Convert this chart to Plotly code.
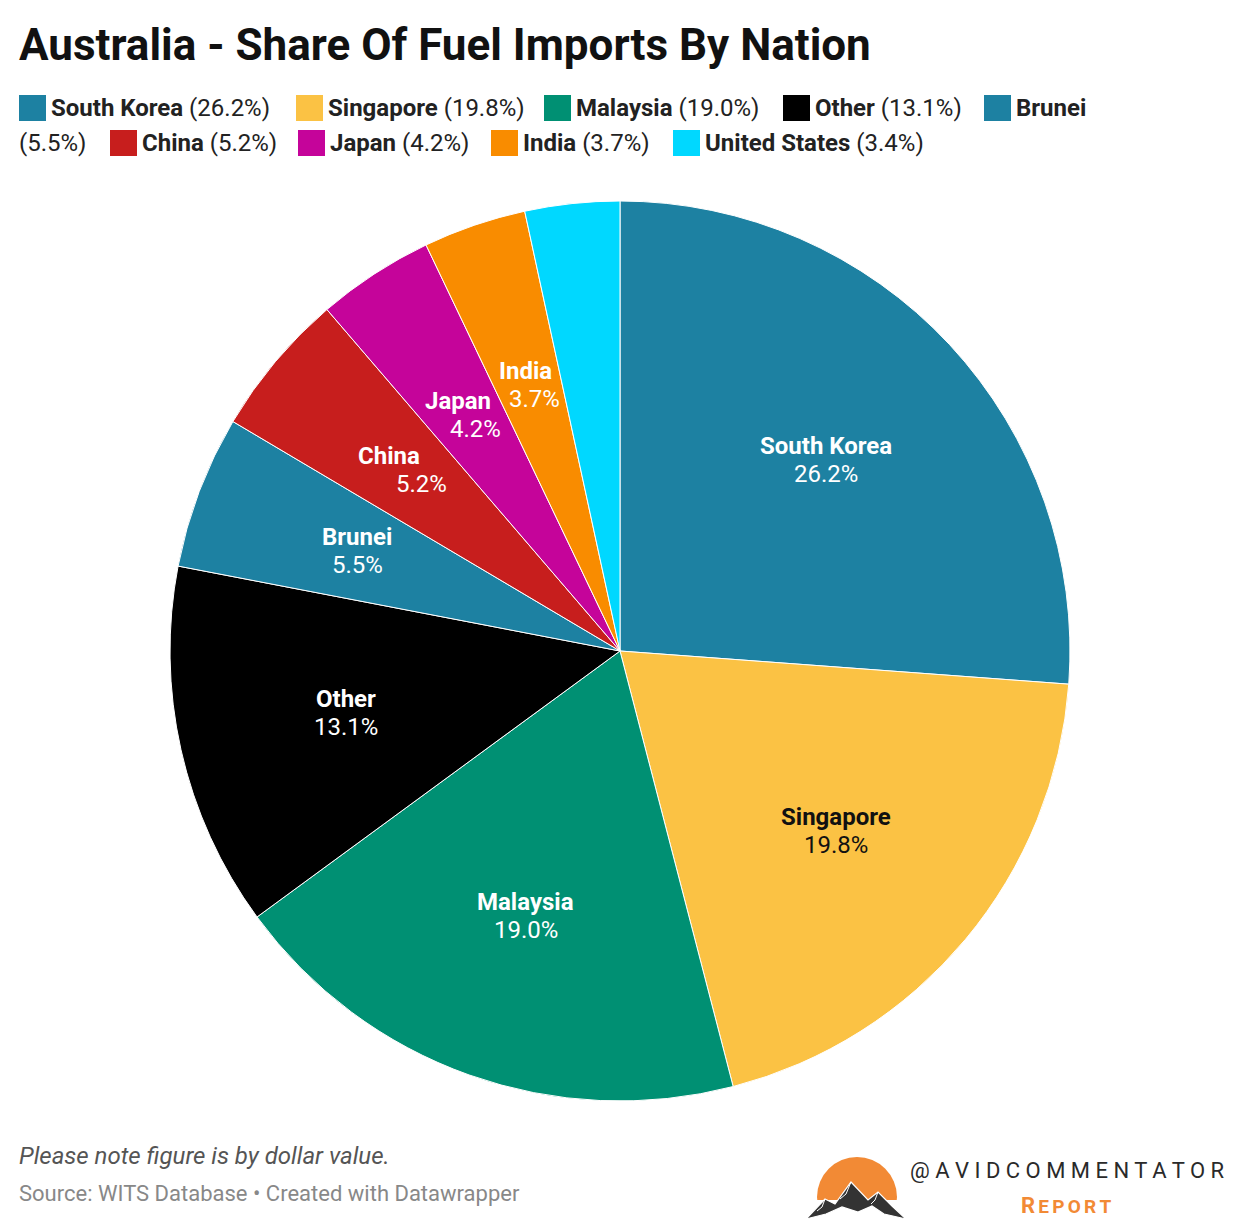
import math
import plotly.graph_objects as go

nations = ["South Korea", "Singapore", "Malaysia", "Other", "Brunei", "China", "Japan", "India", "United States"]
shares = [26.2, 19.8, 19.0, 13.1, 5.5, 5.2, 4.2, 3.7, 3.4]
colors = ["#1d81a2", "#fbc244", "#009073", "#000000", "#1d81a2", "#c71e1d", "#c5049a", "#f98c00", "#00d8ff"]
label_colors = ["#ffffff", "#111111", "#ffffff", "#ffffff", "#ffffff", "#ffffff", "#ffffff", "#ffffff", "#ffffff"]
show_label = [True, True, True, True, True, True, True, True, False]

# label layout nudges (px) for name line and value line in the narrow slices
name_dx = [0, 0, 0, 0, 0, -16, -8, -3, 0]
value_dx = [0, 0, 0, 0, 0, 17, 9, 6, 0]

# legend layout (page pixels): row and x of text start for each entry
legend_row = [0, 0, 0, 0, 0, 1, 1, 1, 1]
legend_text_x = [52, 329, 577, 816, 1017, 143, 331, 524, 706]
legend_row_y = [108, 143]

OFF = 8                      # page body margin
W, H = 1240 - OFF, 1226 - OFF
FONT = "Roboto"

def px(x):
    return (x - OFF) / W

def py(y):
    return 1 - (y - OFF) / H

# pie geometry in page pixels
PIE_L, PIE_R, PIE_T, PIE_B = 170, 1070, 201, 1101
CX, CY = (PIE_L + PIE_R) / 2, (PIE_T + PIE_B) / 2
RAD = (PIE_R - PIE_L) / 2

fig = go.Figure()
fig.add_trace(go.Pie(
    labels=nations,
    values=shares,
    sort=False,
    direction="clockwise",
    rotation=0,
    marker=dict(colors=colors, line=dict(color="#ffffff", width=1)),
    textinfo="none",
    hoverinfo="label+percent",
    showlegend=False,
    domain=dict(x=[px(PIE_L), px(PIE_R)], y=[py(PIE_B), py(PIE_T)]),
))

annotations = []

def ann(text, x, y, size, color, xanchor="left", **kw):
    annotations.append(dict(text=text, x=px(x), y=py(y), xref="paper", yref="paper",
                            xanchor=xanchor, yanchor="middle", showarrow=False,
                            borderpad=0, borderwidth=0,
                            font=dict(family=FONT, size=size, color=color, **kw)))

# slice labels, placed at mid-angle of each slice
total = sum(shares)
cum = 0.0
for i, (name, v, col, show) in enumerate(zip(nations, shares, label_colors, show_label)):
    mid = (cum + v / 2) / total * 2 * math.pi
    cum += v
    if not show:
        continue
    lx = CX + 0.625 * RAD * math.sin(mid)
    ly = CY - 0.625 * RAD * math.cos(mid)
    ann(f"<b>{name}</b>", lx + name_dx[i], ly - 14, 24, col, xanchor="center")
    ann(f"{v:.1f}%", lx + value_dx[i], ly + 14, 24, col, xanchor="center")

shapes = []
# legend
for i, (name, v, c) in enumerate(zip(nations, shares, colors)):
    ry = legend_row_y[legend_row[i]]
    tx = legend_text_x[i]
    shapes.append(dict(type="rect", xref="paper", yref="paper",
                       x0=px(tx - 33), x1=px(tx - 6), y0=py(ry + 13), y1=py(ry - 13),
                       fillcolor=c, line=dict(width=0)))
    if name == "Brunei":
        ann(f"<b>{name}</b>", tx - 1, ry, 24, "#222222")
        ann(f"({v:.1f}%)", 19, legend_row_y[1], 24, "#222222")
    else:
        ann(f"<b>{name}</b> ({v:.1f}%)", tx - 1, ry, 24, "#222222")

# title and footer
ann("<b>Australia - Share Of Fuel Imports By Nation</b>", 19, 45, 44, "#111111")
ann("<i>Please note figure is by dollar value.</i>", 19, 1156, 24, "#555555")
ann("Source: WITS Database • Created with Datawrapper", 19, 1193, 22, "#888888")

# logo
ann(" ".join("@AVIDCOMMENTATOR"), 1224, 1170, 22, "#2a2a2a", xanchor="right")
ann("<b>R" + "<span style='font-size:19px'>" + "\u2006".join(" EPORT")[1:] + "</span></b>",
    1066, 1205, 22, "#f28a35", xanchor="center")

def path(points):
    s = "M {} {}".format(px(points[0][0]), py(points[0][1]))
    for (x, y) in points[1:]:
        s += " L {} {}".format(px(x), py(y))
    return s

mountain = [(806, 1219), (825, 1199), (835, 1204), (851, 1182), (868, 1200), (878, 1192),
            (892, 1206), (906, 1219), (884, 1214), (872, 1206), (858, 1212), (842, 1207), (826, 1214)]
snow = [[(851, 1182), (846, 1194), (840, 1199)], [(878, 1192), (875, 1200), (871, 1204)],
        [(825, 1199), (822, 1207), (817, 1211)]]

shapes += [
    dict(type="circle", xref="paper", yref="paper",
         x0=px(817), x1=px(897), y0=py(1237), y1=py(1157),
         fillcolor="#f28a35", line=dict(width=0)),
    dict(type="rect", xref="paper", yref="paper",
         x0=px(812), x1=px(902), y0=py(1226), y1=py(1200),
         fillcolor="#ffffff", line=dict(width=0)),
    dict(type="path", xref="paper", yref="paper", path=path(mountain) + " Z",
         fillcolor="#333333", line=dict(color="#ffffff", width=1.2)),
]
for s in snow:
    shapes.append(dict(type="path", xref="paper", yref="paper", path=path(s),
                       line=dict(color="#ffffff", width=1)))

fig.update_layout(
    width=W, height=H,
    margin=dict(l=0, r=0, t=0, b=0),
    paper_bgcolor="#ffffff",
    plot_bgcolor="#ffffff",
    font=dict(family=FONT, color="#222222"),
    xaxis=dict(visible=False),
    yaxis=dict(visible=False),
    showlegend=False,
    shapes=shapes,
    annotations=annotations,
)

fig.write_html("out.html")
